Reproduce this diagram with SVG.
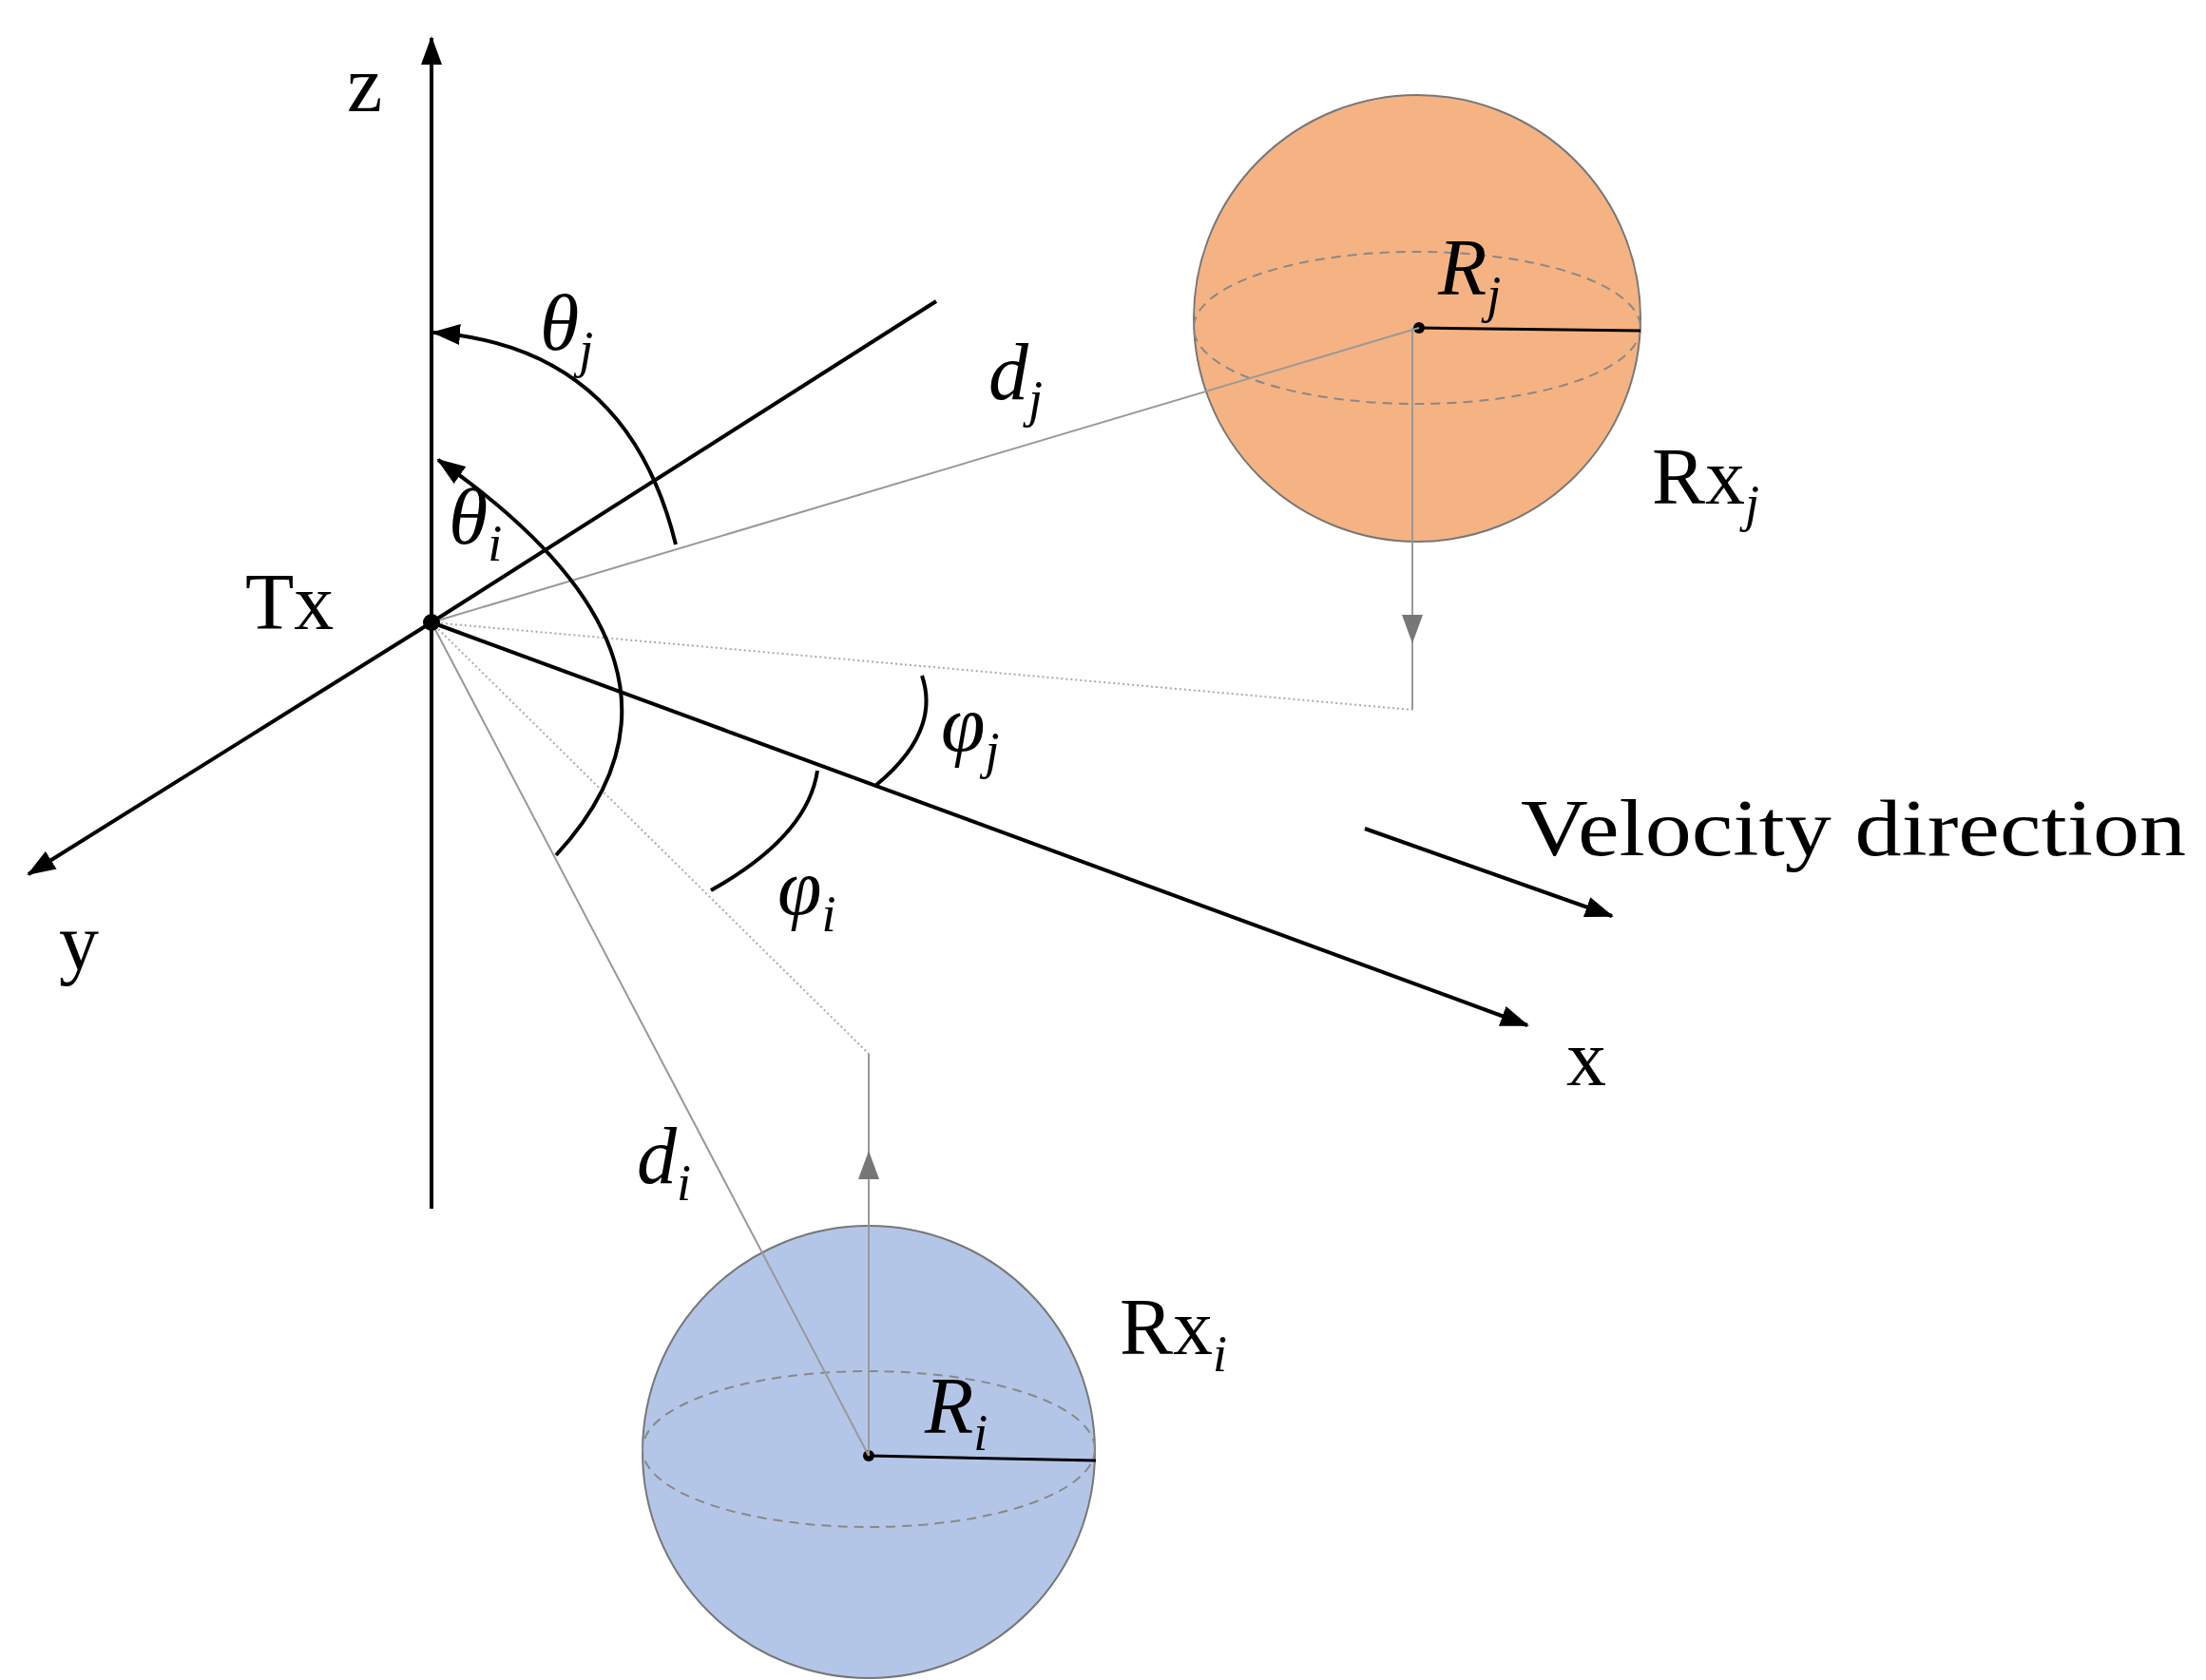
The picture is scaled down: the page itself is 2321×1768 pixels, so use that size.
<svg xmlns="http://www.w3.org/2000/svg" width="2321" height="1768" viewBox="0 0 2321 1768">
<style>
.ax{stroke:#000;stroke-width:4;fill:none}
.g{stroke:#999;stroke-width:2;fill:none}
.gd{stroke:#aaa;stroke-width:2;fill:none;stroke-dasharray:2 3}
.t{font-family:"Liberation Serif","Times New Roman",serif;font-size:84px;fill:#000}
.it{font-style:italic}
.sub{font-size:54px}
</style>
<defs>
<marker id="abk" markerWidth="30" markerHeight="22" refX="28" refY="11" orient="auto" markerUnits="userSpaceOnUse"><path d="M0,0L30,11L0,22z" fill="#000"/></marker>
<marker id="ag" markerWidth="30" markerHeight="22" refX="28" refY="11" orient="auto" markerUnits="userSpaceOnUse"><path d="M0,0L30,11L0,22z" fill="#777"/></marker>
</defs>
<g id="sphere-j">
<circle cx="1491" cy="335" r="235" fill="#f5b383" stroke="#777" stroke-width="2"/>
<ellipse cx="1491" cy="345" rx="235" ry="80" fill="none" stroke="#888" stroke-width="2" stroke-dasharray="10 7"/>
<circle cx="1493" cy="345" r="6" fill="#000"/>
<line x1="1493" y1="345" x2="1726" y2="348" stroke="#000" stroke-width="3"/>
</g>
<g id="sphere-i">
<circle cx="914" cy="1528" r="238" fill="#b4c6e8" stroke="#777" stroke-width="2"/>
<ellipse cx="914" cy="1525" rx="238" ry="82" fill="none" stroke="#888" stroke-width="2" stroke-dasharray="10 7"/>
<circle cx="914" cy="1532" r="6" fill="#000"/>
<line x1="914" y1="1532" x2="1153" y2="1537" stroke="#000" stroke-width="3"/>
</g>
<g id="connectors">
<line class="ax" x1="454" y1="1272" x2="454" y2="40" marker-end="url(#abk)"/>
<line class="ax" x1="454" y1="655" x2="985" y2="317"/>
<line class="ax" x1="454" y1="655" x2="30" y2="920" marker-end="url(#abk)"/>
<line class="ax" x1="454" y1="655" x2="1607" y2="1079" marker-end="url(#abk)"/>
<line class="ax" x1="1436" y1="872" x2="1696" y2="964" marker-end="url(#abk)"/>
<line class="g" x1="454" y1="655" x2="1493" y2="345"/>
<line class="gd" x1="454" y1="655" x2="1486" y2="747"/>
<line class="g" x1="1486" y1="747" x2="1486" y2="345"/>
<line class="g" x1="1486" y1="600" x2="1486" y2="675" marker-end="url(#ag)"/>
<line class="g" x1="454" y1="655" x2="914" y2="1532"/>
<line class="gd" x1="454" y1="655" x2="914" y2="1109"/>
<line class="g" x1="914" y1="1109" x2="914" y2="1532"/>
<line class="g" x1="914" y1="1300" x2="914" y2="1213" marker-end="url(#ag)"/>
<path class="ax" d="M711,573 Q660,365 456,350" marker-end="url(#abk)"/>
<path class="ax" d="M585,900 Q770,700 461,484" marker-end="url(#abk)"/>
<path class="ax" d="M922,826 Q990,770 970,711"/>
<path class="ax" d="M748,937 Q850,880 860,811"/>
<circle cx="454" cy="655" r="9" fill="#000"/>
</g>
<g id="labels">
<text class="t" x="365" y="117">z</text>
<text class="t" x="258" y="662">Tx</text>
<text class="t" x="62" y="1020">y</text>
<text class="t" x="1648" y="1142">x</text>
<text class="t it" x="568" y="368">θ<tspan class="sub" dy="18">j</tspan></text>
<text class="t it" x="472" y="572">θ<tspan class="sub" dy="18">i</tspan></text>
<text class="t it" x="1040" y="420">d<tspan class="sub" dy="18">j</tspan></text>
<text class="t it" x="1513" y="310">R<tspan class="sub" dy="18">j</tspan></text>
<text class="t" x="1738" y="530">Rx<tspan class="sub it" dy="18">j</tspan></text>
<text class="t it" x="990" y="790">φ<tspan class="sub" dy="18">j</tspan></text>
<text class="t it" x="818" y="962">φ<tspan class="sub" dy="18">i</tspan></text>
<text class="t it" x="670" y="1245">d<tspan class="sub" dy="18">i</tspan></text>
<text class="t it" x="973" y="1508">R<tspan class="sub" dy="18">i</tspan></text>
<text class="t" x="1178" y="1425">Rx<tspan class="sub it" dy="18">i</tspan></text>
<text class="t" x="1600" y="900" textLength="700" lengthAdjust="spacingAndGlyphs">Velocity direction</text>
</g>
</svg>
